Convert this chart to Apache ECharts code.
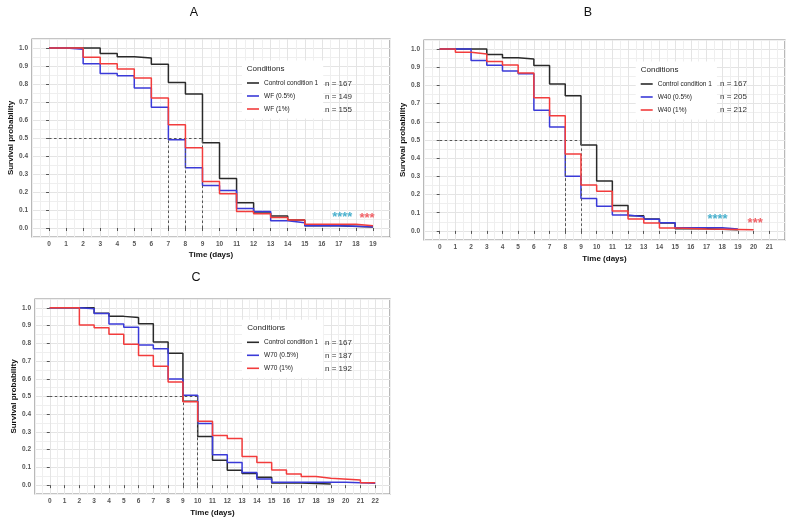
<!DOCTYPE html>
<html><head><meta charset="utf-8">
<script src="https://cdn.jsdelivr.net/npm/echarts@6/dist/echarts.min.js"></script>
<style>html,body{margin:0;padding:0;background:#fff}#c{width:793px;height:525px}</style>
</head><body><div id="c"></div>
<script>
// ---------------- data ----------------
const controlName = 'Control condition 1';
const controlDays = [0,3,4,5,6,7,8,9,10,11,12,13,14,15,17,19];
const controlSurv = [1,0.970,0.952,0.945,0.910,0.808,0.744,0.473,0.275,0.140,0.084,0.066,0.044,0.012,0.006,0.006];

const wf05Name = 'WF (0.5%)';
const wf05Days = [0,1,2,3,4,5,6,7,8,9,10,11,12,13,14,15,17,19];
const wf05Surv = [1,0.993,0.913,0.859,0.846,0.778,0.671,0.490,0.335,0.236,0.208,0.108,0.092,0.040,0.029,0.013,0.007,0.007];
const wf1Name = 'WF (1%)';
const wf1Days = [0,2,3,4,5,6,7,8,9,10,11,12,13,14,15,18,19];
const wf1Surv = [1,0.949,0.912,0.883,0.834,0.722,0.573,0.446,0.258,0.190,0.091,0.079,0.058,0.045,0.021,0.013,0.013];

const w40_05Name = 'W40 (0.5%)';
const w40_05Days = [0,2,3,4,5,6,7,8,9,10,11,12,13,14,15,18,19];
const w40_05Surv = [1,0.937,0.911,0.879,0.864,0.663,0.571,0.300,0.178,0.136,0.088,0.078,0.064,0.045,0.018,0.010,0.010];
const w40_1Name = 'W40 (1%)';
const w40_1Days = [0,1,2,3,4,5,6,7,8,9,10,11,12,13,14,15,17,20];
const w40_1Surv = [1,0.983,0.973,0.932,0.912,0.868,0.733,0.634,0.423,0.253,0.218,0.110,0.066,0.044,0.016,0.011,0.007,0.007];

const w70_05Name = 'W70 (0.5%)';
const w70_05Days = [0,2,3,4,5,6,7,8,9,10,11,12,13,14,15,20,22];
const w70_05Surv = [1,0.995,0.968,0.909,0.890,0.791,0.769,0.599,0.507,0.347,0.172,0.127,0.071,0.034,0.016,0.011,0.011];
const w70_1Name = 'W70 (1%)';
const w70_1Days = [0,2,3,4,5,6,7,8,9,10,11,12,13,14,15,16,17,18,19,21,22];
const w70_1Surv = [1,0.903,0.888,0.851,0.795,0.731,0.670,0.582,0.470,0.360,0.280,0.263,0.162,0.127,0.086,0.063,0.049,0.039,0.029,0.014,0.014];

const panelTitles = ['A', 'B', 'C'];
const nLabelsA = ['n = 167', 'n = 149', 'n = 155'];
const nLabelsB = ['n = 167', 'n = 205', 'n = 212'];
const nLabelsC = ['n = 167', 'n = 187', 'n = 192'];
const mediansA = [9, 7, 8];
const mediansB = [9, 8, 8];
const mediansC = [9, 10, 10];
const xTicksA = [0,1,2,3,4,5,6,7,8,9,10,11,12,13,14,15,16,17,18,19];
const xTicksB = [0,1,2,3,4,5,6,7,8,9,10,11,12,13,14,15,16,17,18,19,20,21];
const xTicksC = [0,1,2,3,4,5,6,7,8,9,10,11,12,13,14,15,16,17,18,19,20,21,22];
const yTicks = [0,0.1,0.2,0.3,0.4,0.5,0.6,0.7,0.8,0.9,1.0];
// significance annotations: [day, survival, text, colorKey]
const sigA = [[17.2, 0.078, '****', 'cyan'], [18.65, 0.068, '***', 'red']];
const sigB = [[17.7, 0.082, '****', 'cyan'], [20.1, 0.060, '***', 'red']];
const sigC = [];

// ---------------- styles / layout ----------------
const COLORS = { black: '#2a2a2a', blue: '#3a3ad8', red: '#f23c3c', cyan: '#1b9cc0', sigred: '#ee3a40' };
const FONT = "'Liberation Sans', Arial, sans-serif";

const panels = [
  { title: panelTitles[0], titlePos: [194, 13],
    grid: { left: 32, top: 39, width: 358, height: 198 }, xMin: -1, xMax: 20, xTicks: xTicksA, nameGapX: 14,
    series: [[controlName, controlDays, controlSurv, 'black'], [wf05Name, wf05Days, wf05Surv, 'blue'], [wf1Name, wf1Days, wf1Surv, 'red']],
    medians: mediansA, nLabels: nLabelsA, sig: sigA,
    legend: { left: 242, top: 60.5 }, condPos: [246.7, 69], nPos: [325, 83.3] },
  { title: panelTitles[1], titlePos: [588, 13],
    grid: { left: 424, top: 40, width: 361, height: 200 }, xMin: -1, xMax: 22, xTicks: xTicksB, nameGapX: 15,
    series: [[controlName, controlDays, controlSurv, 'black'], [w40_05Name, w40_05Days, w40_05Surv, 'blue'], [w40_1Name, w40_1Days, w40_1Surv, 'red']],
    medians: mediansB, nLabels: nLabelsB, sig: sigB,
    legend: { left: 635.7, top: 61.5 }, condPos: [640.7, 70], nPos: [720, 84] },
  { title: panelTitles[2], titlePos: [196, 277.8],
    grid: { left: 35, top: 299, width: 355, height: 195 }, xMin: -1, xMax: 23, xTicks: xTicksC, nameGapX: 15,
    series: [[controlName, controlDays, controlSurv, 'black'], [w70_05Name, w70_05Days, w70_05Surv, 'blue'], [w70_1Name, w70_1Days, w70_1Surv, 'red']],
    medians: mediansC, nLabels: nLabelsC, sig: sigC,
    legend: { left: 242, top: 319.8 }, condPos: [247.3, 327.7], nPos: [325, 342.3] }
];

const grids = [], xAxes = [], yAxes = [], series = [], legends = [], graphics = [];
const isInt = v => Math.abs(v - Math.round(v)) < 1e-6;
const isTenth = v => Math.abs(v * 10 - Math.round(v * 10)) < 1e-6;

panels.forEach((p, i) => {
  grids.push(Object.assign({ show: true, borderColor: '#8c8c8c', borderWidth: 1.2, backgroundColor: '#fff', containLabel: false }, p.grid));
  // main axes: fine grid lines (major + minor)
  xAxes.push({ type: 'value', gridIndex: i, min: p.xMin, max: p.xMax, interval: 0.5,
    axisLine: { show: false }, axisTick: { show: false }, axisLabel: { show: false },
    splitLine: { show: true, lineStyle: { color: '#efefef', width: 1 } } });
  yAxes.push({ type: 'value', gridIndex: i, min: -0.05, max: 1.05, interval: 0.05,
    axisLine: { show: false }, axisTick: { show: false }, axisLabel: { show: false },
    splitLine: { show: true, lineStyle: { color: '#efefef', width: 1 } } });
  // overlay axes: ticks, labels, major grid, titles
  xAxes.push({ type: 'value', gridIndex: i, min: p.xMin, max: p.xMax, interval: 0.5, position: 'bottom',
    name: 'Time (days)', nameLocation: 'middle', nameGap: p.nameGapX,
    nameTextStyle: { fontFamily: FONT, fontSize: 8, fontWeight: 'bold', color: '#111' },
    axisLine: { show: false },
    axisTick: { show: true, length: 3, customValues: p.xTicks, lineStyle: { color: '#555', width: 1 } },
    axisLabel: { show: true, customValues: p.xTicks, margin: 4, fontFamily: FONT, fontSize: 6.5, fontWeight: 'bold', color: '#555',
      formatter: v => (isInt(v) && v >= 0 && v <= p.xTicks[p.xTicks.length - 1]) ? String(Math.round(v)) : '' },
    splitLine: { show: true, lineStyle: { color: '#e4e4e4', width: 1 } } });
  yAxes.push({ type: 'value', gridIndex: i, min: -0.05, max: 1.05, interval: 0.05, position: 'left',
    name: 'Survival probability', nameLocation: 'middle', nameGap: 11, nameRotate: 90,
    nameTextStyle: { fontFamily: FONT, fontSize: 8, fontWeight: 'bold', color: '#111' },
    axisLine: { show: false },
    axisTick: { show: true, length: 3, customValues: yTicks, lineStyle: { color: '#555', width: 1 } },
    axisLabel: { show: true, customValues: yTicks, margin: 4, fontFamily: FONT, fontSize: 6.5, fontWeight: 'bold', color: '#555',
      formatter: v => (isTenth(v) && v >= -1e-6 && v <= 1 + 1e-6) ? v.toFixed(1) : '' },
    splitLine: { show: true, lineStyle: { color: '#e4e4e4', width: 1 } } });

  const mx = Math.max.apply(null, p.medians);
  const ml = [[{ coord: [0, 0.5] }, { coord: [mx, 0.5] }]];
  p.medians.forEach(m => ml.push([{ coord: [m, 0] }, { coord: [m, 0.5] }]));

  p.series.forEach((s, k) => {
    const [name, days, surv, ck] = s;
    const ser = { type: 'line', name: name, step: 'end', symbol: 'none', showSymbol: false,
      xAxisIndex: 2 * i, yAxisIndex: 2 * i, z: 3 + k, animation: false,
      data: days.map((d, j) => [d, surv[j]]),
      lineStyle: { width: 1.5, color: COLORS[ck] }, itemStyle: { color: COLORS[ck] } };
    if (k === 0) {
      ser.markLine = { silent: true, symbol: ['none', 'none'], label: { show: false },
        lineStyle: { type: [2.5, 2.5], color: '#555', width: 1 }, data: ml, animation: false };
    }
    series.push(ser);
  });

  if (p.sig.length) {
    series.push({ type: 'scatter', name: 'sig' + i, xAxisIndex: 2 * i, yAxisIndex: 2 * i, symbolSize: 1,
      itemStyle: { color: 'rgba(0,0,0,0)' }, animation: false, silent: true, z: 8,
      data: p.sig.map(a => ({ value: [a[0], a[1]], label: { formatter: a[2], color: a[3] === 'cyan' ? COLORS.cyan : COLORS.sigred } })),
      label: { show: true, position: 'inside', fontFamily: FONT, fontSize: 13, fontWeight: 'bold', offset: [0, 3] } });
  }

  legends.push({ left: p.legend.left, top: p.legend.top, orient: 'vertical', selectedMode: false,
    data: p.series.map(s => s[0]), backgroundColor: '#fff', padding: [18, 5, 5, 5],
    icon: 'rect', itemWidth: 12, itemHeight: 1.6, itemGap: 4,
    textStyle: { fontFamily: FONT, fontSize: 6.5, color: '#222', lineHeight: 9 } });

  graphics.push({ type: 'text', z: 100, style: { text: p.title, x: p.titlePos[0], y: p.titlePos[1],
    textAlign: 'center', textVerticalAlign: 'middle', font: '12.5px ' + FONT, fill: '#111' } });
  graphics.push({ type: 'text', z: 100, style: { text: 'Conditions', x: p.condPos[0], y: p.condPos[1],
    textAlign: 'left', textVerticalAlign: 'middle', font: '8px ' + FONT, fill: '#222' } });
  p.nLabels.forEach((t, k) => graphics.push({ type: 'text', z: 100, style: { text: t, x: p.nPos[0], y: p.nPos[1] + 13 * k,
    textAlign: 'left', textVerticalAlign: 'middle', font: '8px ' + FONT, fill: '#333' } }));
});

const chart = echarts.init(document.getElementById('c'), null, { renderer: 'canvas' });
chart.setOption({
  backgroundColor: '#fff', animation: false,
  grid: grids, xAxis: xAxes, yAxis: yAxes, legend: legends, series: series, graphic: graphics
});
</script>
</body></html>
